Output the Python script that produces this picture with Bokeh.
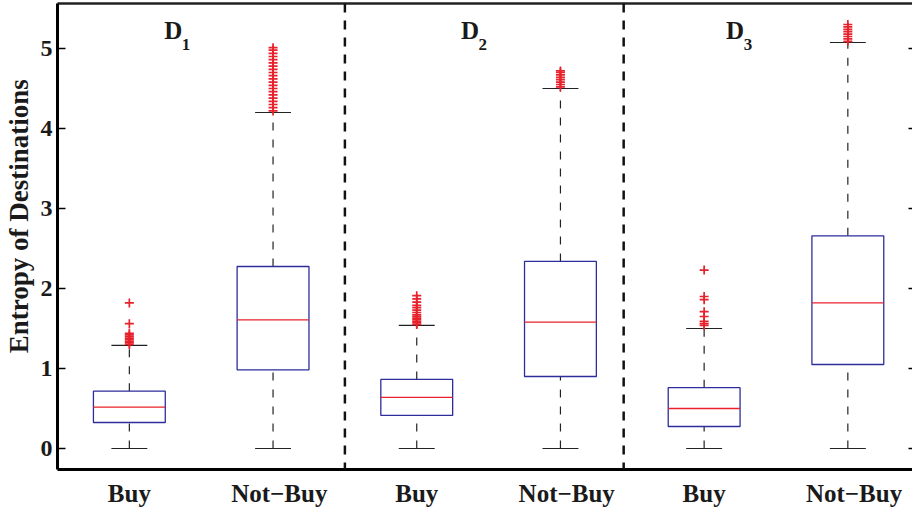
from bokeh.plotting import figure
from bokeh.models import LinearAxis, FixedTicker, Range1d, Span, ColumnDataSource
from bokeh.core.properties import value
from bokeh.embed import file_html
from bokeh.resources import INLINE

NBSP = "\u00a0"

# Box statistics for the three data sets (Buy / Not-Buy per set)
categories = ["Buy", "Not\u2212Buy", "Buy", "Not\u2212Buy", "Buy", "Not\u2212Buy"]
positions = [1, 2, 3, 4, 5, 6]
q1 = [0.325, 0.983, 0.413, 0.900, 0.275, 1.050]
median = [0.516, 1.608, 0.638, 1.579, 0.500, 1.821]
q3 = [0.716, 2.275, 0.863, 2.338, 0.760, 2.658]
whisker_low = [0.0, 0.0, 0.0, 0.0, 0.0, 0.0]
whisker_high = [1.29, 4.20, 1.54, 4.50, 1.50, 5.075]

# Outliers per box
outliers = [
    [1.30, 1.32, 1.34, 1.36, 1.38, 1.40, 1.42, 1.44, 1.56, 1.82],
    [4.22, 4.26, 4.30, 4.34, 4.38, 4.42, 4.46, 4.50, 4.54, 4.58, 4.62, 4.66,
     4.70, 4.74, 4.78, 4.82, 4.86, 4.90, 4.94, 4.98, 5.01],
    [1.55, 1.57, 1.59, 1.61, 1.63, 1.65, 1.67, 1.70, 1.73, 1.76, 1.79, 1.83,
     1.87, 1.91],
    [4.52, 4.55, 4.58, 4.61, 4.64, 4.67, 4.70, 4.72],
    [1.54, 1.56, 1.59, 1.65, 1.71, 1.86, 1.90, 2.23],
    [5.09, 5.12, 5.15, 5.18, 5.21, 5.24, 5.27, 5.30],
]

set_labels = ["D", "D", "D"]
set_subscripts = ["1", "2", "3"]
set_label_x = [1.305, 3.37, 5.215]
set_label_y = [5.22, 5.22, 5.22]
dividers = [2.5, 4.44]
y_ticks = [0, 1, 2, 3, 4, 5]

BLUE = "#2d2d9c"
RED = "#e8222c"
FONT = "Liberation Serif"
TEXT = "#1a1a1a"
box_w = 0.5
cap_w = 0.25

p = figure(width=912, height=511, output_backend="svg", toolbar_location=None,
           x_range=Range1d(0.5, 6.45), y_range=Range1d(-0.2625, 5.5625),
           min_border_left=57, min_border_right=0, min_border_top=3,
           min_border_bottom=42, x_axis_location=None, y_axis_location=None)
p.outline_line_color = None
p.grid.visible = False
p.background_fill_color = "white"
p.border_fill_color = "white"

# Left axis (leading blanks lift the label slightly above the frame centre)
ya = LinearAxis(ticker=FixedTicker(ticks=y_ticks),
                axis_label=NBSP * 6 + "Entropy of Destinations")
ya.axis_line_width = 3
ya.axis_line_color = "black"
ya.major_tick_in = 8
ya.major_tick_out = 0
ya.major_tick_line_width = 1.5
ya.minor_tick_line_color = None
ya.major_label_text_font = FONT
ya.major_label_text_font_style = "bold"
ya.major_label_text_font_size = "24px"
ya.major_label_text_color = TEXT
ya.major_label_standoff = 5
ya.axis_label_text_font = FONT
ya.axis_label_text_font_style = "bold"
ya.axis_label_text_font_size = "27px"
ya.axis_label_text_color = TEXT
ya.axis_label_standoff = 4
p.add_layout(ya, "left")

# Bottom axis with category labels
xa = LinearAxis(ticker=FixedTicker(ticks=positions))
xa.major_label_overrides = {
    pos: (NBSP * 2 + lab if "Not" in lab else lab)
    for pos, lab in zip(positions, categories)
}
xa.axis_line_width = 3
xa.axis_line_color = "black"
xa.major_tick_in = 0
xa.major_tick_out = 0
xa.minor_tick_line_color = None
xa.major_label_text_font = FONT
xa.major_label_text_font_style = "bold"
xa.major_label_text_font_size = "25px"
xa.major_label_text_color = TEXT
xa.major_label_standoff = 10
p.add_layout(xa, "below")

# Top frame line
ta = LinearAxis(ticker=FixedTicker(ticks=[]))
ta.axis_line_width = 2.5
ta.axis_line_color = "#222222"
ta.major_tick_in = 0
ta.major_tick_out = 0
ta.minor_tick_line_color = None
p.add_layout(ta, "above")

# Right-side inward ticks, no labels
ra = LinearAxis(ticker=FixedTicker(ticks=y_ticks))
ra.major_label_overrides = {t: "" for t in y_ticks}
ra.axis_line_color = None
ra.major_tick_in = 4
ra.major_tick_out = 0
ra.major_tick_line_width = 1.5
ra.minor_tick_line_color = None
p.add_layout(ra, "right")

src = ColumnDataSource(dict(
    x=positions, q1=q1, med=median, q3=q3, lo=whisker_low, hi=whisker_high,
    left=[x - box_w / 2 for x in positions], right=[x + box_w / 2 for x in positions],
    cl=[x - cap_w / 2 for x in positions], cr=[x + cap_w / 2 for x in positions],
))

# Whiskers (dashed) and caps
p.segment(x0="x", y0="q3", x1="x", y1="hi", source=src, line_color="#222222",
          line_width=1.2, line_dash="8 9")
p.segment(x0="x", y0="lo", x1="x", y1="q1", source=src, line_color="#222222",
          line_width=1.2, line_dash="8 9")
p.segment(x0="cl", y0="hi", x1="cr", y1="hi", source=src, line_color="#222222", line_width=1.2)
p.segment(x0="cl", y0="lo", x1="cr", y1="lo", source=src, line_color="#222222", line_width=1.2)

# Boxes and medians
p.quad(left="left", right="right", bottom="q1", top="q3", source=src,
       fill_color=None, line_color=BLUE, line_width=1.3)
p.segment(x0="left", y0="med", x1="right", y1="med", source=src,
          line_color=RED, line_width=1.3)

# Outliers
ox, oy = [], []
for pos, vals in zip(positions, outliers):
    ox.extend([pos] * len(vals))
    oy.extend(vals)
p.scatter(x=ox, y=oy, marker="cross", size=9, line_color=RED, line_width=1.7)

# Data set separators
for d in dividers:
    p.add_layout(Span(location=d, dimension="height", line_color="#111111",
                      line_width=2.5, line_dash="9 8"))

# Data set names with subscripts
p.text(x=set_label_x, y=set_label_y, text=set_labels, text_font=value(FONT),
       text_font_style="bold", text_font_size="25px", text_color=TEXT,
       text_align="center", text_baseline="middle")
p.text(x=[x + 0.09 for x in set_label_x], y=[y - 0.17 for y in set_label_y],
       text=set_subscripts, text_font=value(FONT), text_font_style="bold",
       text_font_size="17px", text_color=TEXT, text_align="center",
       text_baseline="middle")

open("out.html", "w").write(file_html(p, INLINE))
